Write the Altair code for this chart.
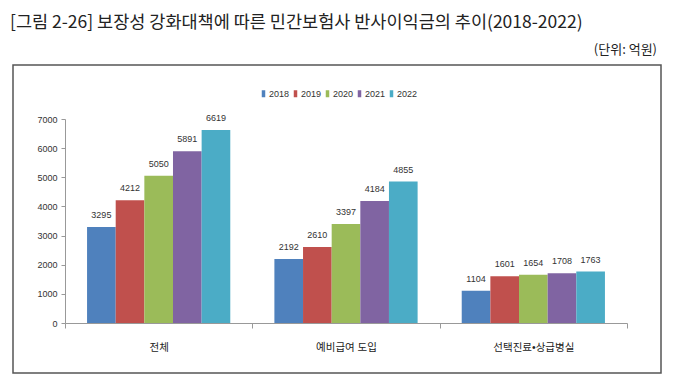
import altair as alt
import pandas as pd

# ---- data ----
categories = ["전체", "예비급여 도입", "선택진료•상급병실"]
years = ["2018", "2019", "2020", "2021", "2022"]
values_total = [3295, 4212, 5050, 5891, 6619]
values_prelim = [2192, 2610, 3397, 4184, 4855]
values_select = [1104, 1601, 1654, 1708, 1763]
colors = ["#4F81BD", "#C0504D", "#9BBB59", "#8064A2", "#4BACC6"]
y_ticks = [0, 1000, 2000, 3000, 4000, 5000, 6000, 7000]
title_text = "[그림 2-26] 보장성 강화대책에 따른 민간보험사 반사이익금의 추이(2018-2022)"
unit_text = "(단위: 억원)"

rows = []
for cat, vals in zip(categories, [values_total, values_prelim, values_select]):
    for yr, v in zip(years, vals):
        rows.append({"category": cat, "year": yr, "value": v})
df = pd.DataFrame(rows)

FONT = "Liberation Sans, Noto Sans CJK KR, sans-serif"
W, H = 562, 204

x_enc = alt.X(
    "category:N",
    sort=categories,
    scale=alt.Scale(paddingInner=0, paddingOuter=0),
    axis=alt.Axis(
        title=None, labelAngle=0, labelFontSize=10.5, labelColor="#222",
        labelPadding=14, tickSize=5, tickBand="extent",
        domainColor="#999", tickColor="#999", labelFont=FONT,
    ),
)
y_enc = alt.Y(
    "value:Q",
    scale=alt.Scale(domain=[0, 7000], nice=False),
    axis=alt.Axis(
        title=None, values=y_ticks, tickCount=8, format="d", labelOverlap=False,
        labelFontSize=9, labelColor="#333",
        tickSize=4, labelPadding=4, grid=False,
        domainColor="#999", tickColor="#999", labelFont=FONT,
    ),
)
xoff = alt.XOffset(
    "year:N", sort=years, scale=alt.Scale(paddingInner=0, paddingOuter=0.77)
)

base = alt.Chart(df)

bars = base.mark_bar().encode(
    x=x_enc,
    y=y_enc,
    xOffset=xoff,
    color=alt.Color(
        "year:N",
        sort=years,
        scale=alt.Scale(domain=years, range=colors),
        legend=alt.Legend(
            title=None, orient="none", legendX=194, legendY=-30,
            direction="horizontal", symbolType="M-0.5,-1H0.5V1H-0.5Z",
            symbolSize=49, symbolStrokeWidth=0, labelFontSize=9,
            labelColor="#333", labelOffset=1, columnPadding=1, labelFont=FONT,
        ),
    ),
)

labels = base.mark_text(dy=-12, fontSize=9, color="#333", font=FONT).encode(
    x=x_enc,
    y=y_enc,
    xOffset=xoff,
    text=alt.Text("value:Q", format="d"),
)

deco_df = pd.DataFrame({"title": [title_text], "unit": [unit_text]})
deco = alt.Chart(deco_df)

border = deco.mark_rect(fillOpacity=0, stroke="#555", strokeWidth=1.5).encode(
    x=alt.value(-52), x2=alt.value(596), y=alt.value(-54), y2=alt.value(254)
)
title = deco.mark_text(
    align="left", baseline="middle", fontSize=17.5, color="#222",
    font="Noto Sans CJK KR, sans-serif",
).encode(text="title:N", x=alt.value(-55), y=alt.value(-96))
unit = deco.mark_text(
    align="right", baseline="middle", fontSize=13, color="#222",
    font="Noto Sans CJK KR, sans-serif",
).encode(text="unit:N", x=alt.value(592), y=alt.value(-69))

chart = (
    alt.layer(border, bars, labels, title, unit)
    .properties(
        width=W, height=H,
        background="white",
        autosize=alt.AutoSizeParams(type="none"),
        padding={"left": 57, "top": 111, "right": 42, "bottom": 53},
    )
    .configure_view(strokeWidth=0, stroke=None)
)

chart.save("out.html", embed_options={"renderer": "svg", "actions": False})
